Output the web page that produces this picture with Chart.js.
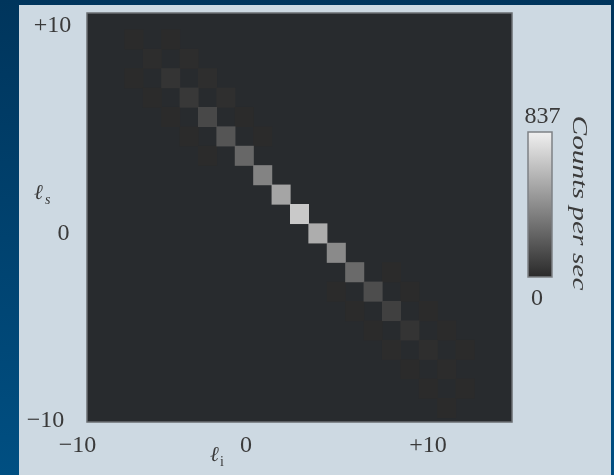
<!DOCTYPE html>
<html>
<head>
<meta charset="utf-8">
<script src="https://cdn.jsdelivr.net/npm/chart.js@4"></script>
<style>
html, body { margin: 0; padding: 0; }
body { width: 614px; height: 475px; position: relative; overflow: hidden; background: linear-gradient(#00355c, #004f82); }
#panel { position: absolute; left: 19px; top: 5px; width: 592px; height: 470px; background: #cdd9e2; }
#wrap { position: absolute; left: 0; top: 0; width: 614px; height: 475px; }
</style>
</head>
<body>
<div id="panel"></div>
<div id="wrap"><canvas id="myChart" width="614" height="475"></canvas></div>
<script>
// mode numbers l_i (x) and l_s (y)
const modes = [-10, -9, -8, -7, -6, -5, -4, -3, -2, -1, 0, 1, 2, 3, 4, 5, 6, 7, 8, 9, 10];

// counts on the anti-diagonal l_s = -l_i, indexed by l_i
const diagCounts = [0, 4, 12, 42, 59, 127, 182, 258, 376, 520, 672, 554, 406, 270, 148, 93, 42, 17, 8, 4, 0];
// faint side bands l_i + l_s = +2 and l_i + l_s = -2, indexed by l_i
const upperBand = [0, 0, 0, 3, 13, 17, 21, 5, 4, 0, 0, 0, 0, 0, 0, 4, 4, 5, 3, 5, 0];
const lowerBand = [0, 3, 4, 5, 4, 3, 0, 0, 0, 0, 0, 0, 3, 4, 6, 7, 6, 3, 3, 0, 0];

const maxCount = 837;
const xTickLabels = ['\u221210', '0', '+10'];
const yTickLabels = ['+10', '0', '\u221210'];
const cbarLabels = ['837', '0'];

const serif = "'Liberation Serif', 'DejaVu Serif', serif";

function countColour(v) {
    let g = Math.round(42 + (240 - 42) * v / maxCount);
    return 'rgb(' + g + ',' + g + ',' + g + ')';
}

// turn one band into floating bars, one per cell
function cells(counts, sum) {
    let out = [];
    modes.forEach((li, i) => {
        let ls = sum - li;
        if (counts[i] > 0 && ls >= -10 && ls <= 10) {
            out.push({ x: li, y: [ls - 0.5, ls + 0.5], v: counts[i] });
        }
    });
    return out;
}

function band(counts, sum) {
    return {
        data: cells(counts, sum),
        backgroundColor: (c) => c.raw ? countColour(c.raw.v) : 'transparent',
        borderWidth: 0,
        borderSkipped: false,
        barPercentage: 1,
        categoryPercentage: 1,
        grouped: false
    };
}

function text(ctx, s, x, y, font, align) {
    ctx.font = font;
    ctx.textAlign = align || 'center';
    ctx.textBaseline = 'alphabetic';
    ctx.fillText(s, x, y);
}

const decor = {
    id: 'decor',
    beforeDatasetsDraw(chart) {
        let a = chart.chartArea, ctx = chart.ctx;
        ctx.save();
        ctx.fillStyle = '#282b2e';
        ctx.fillRect(a.left, a.top, a.right - a.left, a.bottom - a.top);
        ctx.restore();
    },
    afterDatasetsDraw(chart) {
        let a = chart.chartArea, ctx = chart.ctx;
        ctx.save();
        // frame
        ctx.strokeStyle = '#6a6e72';
        ctx.lineWidth = 1.5;
        ctx.strokeRect(a.left, a.top, a.right - a.left, a.bottom - a.top);

        ctx.fillStyle = '#3a3a3a';
        let f = '24px ' + serif;
        // y tick labels
        text(ctx, yTickLabels[0], 52.5, 31.5, f);
        text(ctx, yTickLabels[1], 63.5, 240, f);
        text(ctx, yTickLabels[2], 45.5, 426.5, f);
        // x tick labels
        text(ctx, xTickLabels[0], 77.5, 451.5, f);
        text(ctx, xTickLabels[1], 246, 451.5, f);
        text(ctx, xTickLabels[2], 428, 451.5, f);

        // axis titles
        text(ctx, '\u2113', 210, 461, 'italic 21px ' + serif, 'left');
        text(ctx, 'i', 220, 466, '14px ' + serif, 'left');
        text(ctx, '\u2113', 34, 199, 'italic 21px ' + serif, 'left');
        text(ctx, 's', 45, 204, 'italic 14px ' + serif, 'left');

        // colour bar
        let cx = 528, cy = 132, cw = 24, ch = 145;
        let grad = ctx.createLinearGradient(0, cy, 0, cy + ch);
        grad.addColorStop(0, countColour(maxCount));
        grad.addColorStop(1, countColour(0));
        ctx.fillStyle = grad;
        ctx.fillRect(cx, cy, cw, ch);
        ctx.strokeStyle = '#7d8185';
        ctx.lineWidth = 1.5;
        ctx.strokeRect(cx, cy, cw, ch);

        ctx.fillStyle = '#3a3a3a';
        text(ctx, cbarLabels[0], 542.5, 123, f);
        text(ctx, cbarLabels[1], 537, 305, f);

        // colour bar title, rotated, stretched to its length in the picture
        ctx.save();
        ctx.translate(572.5, 203);
        ctx.rotate(Math.PI / 2);
        ctx.font = 'italic 22px ' + serif;
        let w = ctx.measureText('Counts per sec').width;
        ctx.scale(175 / w, 1);
        ctx.textAlign = 'center';
        ctx.textBaseline = 'alphabetic';
        ctx.fillText('Counts per sec', 0, 0);
        ctx.restore();

        ctx.restore();
    }
};

const ctx = document.getElementById('myChart');

new Chart(ctx, {
    type: 'bar',
    data: {
        datasets: [
            band(diagCounts, 0),
            band(upperBand, 2),
            band(lowerBand, -2)
        ]
    },
    options: {
        responsive: false,
        animation: false,
        layout: { padding: { left: 87, top: 13, right: 102, bottom: 53 } },
        plugins: {
            legend: { display: false },
            tooltip: { enabled: false }
        },
        scales: {
            x: {
                type: 'linear',
                display: false,
                min: -10.5,
                max: 10.5,
                ticks: { stepSize: 1, includeBounds: false }
            },
            y: {
                type: 'linear',
                display: false,
                min: -10.72,
                max: 10.36,
                ticks: { stepSize: 1, includeBounds: false }
            }
        }
    },
    plugins: [decor]
});
</script>
</body>
</html>
